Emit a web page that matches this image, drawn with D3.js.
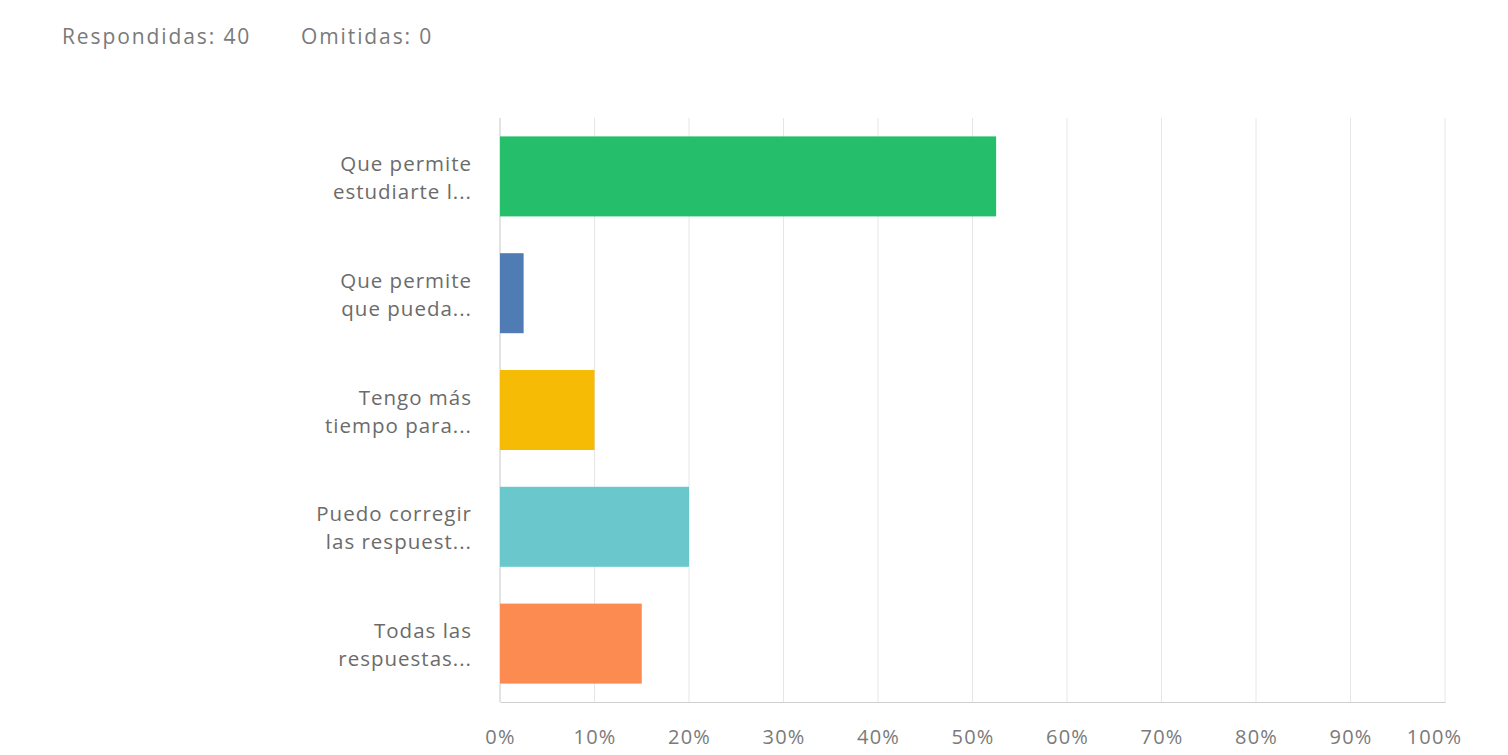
<!DOCTYPE html>
<html>
<head>
<meta charset="utf-8">
<script src="https://cdn.jsdelivr.net/npm/d3@7"></script>
<style>
  body { margin: 0; background: #fff; }
  svg text { font-family: "Open Sans", "Noto Sans", sans-serif; }
</style>
</head>
<body>
<div id="chart"></div>
<script>
// survey answers (labels already truncated as shown)
var categories = [
    ['Que permite', 'estudiarte l...'],
    ['Que permite', 'que pueda...'],
    ['Tengo más', 'tiempo para...'],
    ['Puedo corregir', 'las respuest...'],
    ['Todas las', 'respuestas...']
];
var percents = [52.5, 2.5, 10, 20, 15];
var colors = ['#25bf6c', '#507cb6', '#f6bc05', '#6ac7cb', '#fb8b50'];
var tickValues = [0, 10, 20, 30, 40, 50, 60, 70, 80, 90, 100];
var header = ['Respondidas: 40', 'Omitidas: 0'];

var width = 1508, height = 755;
var margin = {top: 118, right: 63, bottom: 53, left: 500};

var svg = d3.select('#chart')
    .append('svg')
    .attr('width', width)
    .attr('height', height);

// header counts
svg.selectAll('text.head')
    .data(header)
    .enter()
    .append('text')
    .attr('class', 'head')
    .attr('x', (d, i) => i === 0 ? 62 : 301)
    .attr('y', 44)
    .attr('fill', '#7a7a7a')
    .style('font-size', '21px')
    .style('letter-spacing', '1.9px')
    .text(d => d);

var x = d3.scaleLinear()
    .domain([0, 100])
    .range([margin.left, width - margin.right]);

var y = d3.scaleBand()
    .domain(d3.range(categories.length))
    .range([margin.top, height - margin.bottom])
    .paddingInner(0.315)
    .paddingOuter(0.1575);

var g = svg.append('g');

// vertical grid lines
g.selectAll('line.grid')
    .data(tickValues)
    .enter()
    .append('line')
    .attr('class', 'grid')
    .attr('x1', d => x(d))
    .attr('x2', d => x(d))
    .attr('y1', margin.top)
    .attr('y2', height - margin.bottom)
    .attr('stroke', d => d === 0 ? '#c8c8c8' : '#e6e6e6')
    .attr('stroke-width', 1);

// bars
g.selectAll('rect.bar')
    .data(percents)
    .enter()
    .append('rect')
    .attr('class', 'bar')
    .attr('x', x(0))
    .attr('y', (d, i) => y(i))
    .attr('width', d => x(d) - x(0))
    .attr('height', y.bandwidth())
    .attr('fill', (d, i) => colors[i]);

// bottom axis
var xAxis = d3.axisBottom(x)
    .tickValues(tickValues)
    .tickSize(0)
    .tickPadding(28)
    .tickFormat(d => d + '%');

var ax = svg.append('g')
    .attr('transform', 'translate(0,' + (height - margin.bottom) + ')')
    .call(xAxis);
ax.select('.domain').attr('stroke', '#cfcfcf');
ax.selectAll('text')
    .attr('fill', '#7a7a7a')
    .attr('dx', d => d === 100 ? -11 : 0)
    .style('font-size', '20px')
    .style('letter-spacing', '1.2px')
    .style('font-family', '"Open Sans", "Noto Sans", sans-serif');

// category labels, two lines each
var labels = g.selectAll('text.cat')
    .data(categories)
    .enter()
    .append('text')
    .attr('class', 'cat')
    .attr('text-anchor', 'end')
    .attr('fill', '#6b6b6b')
    .style('font-size', '20.5px')
    .style('letter-spacing', '1px')
    .attr('x', margin.left - 28)
    .attr('y', (d, i) => y(i) + y.bandwidth() / 2 - 5.5);

labels.selectAll('tspan')
    .data(d => d)
    .enter()
    .append('tspan')
    .attr('x', margin.left - 28)
    .attr('dy', (d, j) => j === 0 ? 0 : 28)
    .text(d => d);
</script>
</body>
</html>
